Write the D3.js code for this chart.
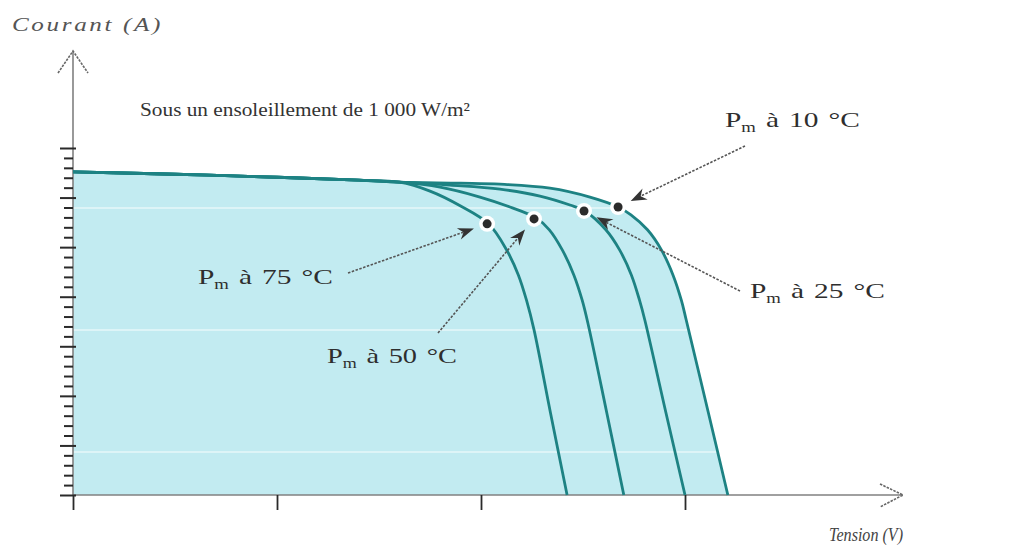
<!DOCTYPE html>
<html>
<head>
<meta charset="utf-8">
<script src="https://cdn.jsdelivr.net/npm/d3@7"></script>
<style>
  html, body { margin: 0; padding: 0; background: #ffffff; }
  svg { display: block; }
</style>
</head>
<body>
<script>
// ---------- data (voltage in V, current in A) ----------
const sharedV = [0, 5, 10, 14, 16];
const sharedI = [6.52, 6.47, 6.41, 6.35, 6.31];

const v75 = [17.5, 19.0, 20.37, 21.26, 21.83, 22.23, 22.60, 23.40, 24.22];
const i75 = [6.13, 5.83, 5.47, 4.94, 4.44, 3.93, 3.33, 1.67, 0];

const v50 = [17.99, 19.95, 21.42, 22.70, 23.35, 23.99, 24.55, 24.96, 25.26, 26.16, 27.0];
const i50 = [6.21, 6.01, 5.81, 5.59, 5.35, 4.94, 4.44, 3.93, 3.43, 1.67, 0];

const v25 = [18.48, 20.93, 22.89, 24.36, 25.09, 26.12, 26.80, 27.37, 27.77, 28.03, 29.06, 30.0];
const i25 = [6.25, 6.17, 6.03, 5.85, 5.73, 5.35, 4.94, 4.44, 3.93, 3.53, 1.67, 0];

const v10 = [19.0, 20.93, 23.38, 25.34, 26.72, 27.35, 28.16, 28.85, 29.41, 29.82, 30.06, 31.14, 32.1];
const i10 = [6.29, 6.27, 6.19, 6.01, 5.81, 5.65, 5.35, 4.94, 4.44, 3.93, 3.53, 1.67, 0];

const temps = ["75", "50", "25", "10"];
const pmV = [20.3, 22.6, 25.05, 26.72];
const pmI = [5.47, 5.57, 5.73, 5.81];

const xTicks = [0, 10, 20, 30];
const yMajorTicks = [0, 1, 2, 3, 4, 5, 6, 7];
const yMinorTicks = [0.2, 0.4, 0.6, 0.8, 1.2, 1.4, 1.6, 1.8, 2.2, 2.4, 2.6, 2.8,
  3.2, 3.4, 3.6, 3.8, 4.2, 4.4, 4.6, 4.8, 5.2, 5.4, 5.6, 5.8, 6.2, 6.4, 6.6, 6.8];

const title = "Sous un ensoleillement de 1 000 W/m²";
const yTitle = "Courant (A)";
const xTitle = "Tension (V)";

// ---------- setup ----------
const W = 1031, H = 547;
const svg = d3.select("body").append("svg").attr("width", W).attr("height", H);

const x = d3.scaleLinear().domain([0, 40]).range([73, 889]);
const y = d3.scaleLinear().domain([0, 7]).range([495, 148]);

const FILL = "#c2ebf1";
const CURVE = "#1d8283";
const SERIF = "'Liberation Serif', 'Times New Roman', serif";

function series(vs, is) {
  const pts = sharedV.map((v, k) => [v, sharedI[k]]);
  vs.forEach((v, k) => pts.push([v, is[k]]));
  return pts;
}
const curves = [series(v75, i75), series(v50, i50), series(v25, i25), series(v10, i10)];
const curveType = d3.curveCatmullRom.alpha(0.5);

// ---------- fill under outermost curve ----------
const area = d3.area().x(d => x(d[0])).y0(y(0)).y1(d => y(d[1])).curve(curveType);
const defs = svg.append("defs");
defs.append("clipPath").attr("id", "fillclip").append("path").datum(curves[3]).attr("d", area);
svg.append("path").datum(curves[3]).attr("d", area).attr("fill", FILL);
// faint scan stripes
svg.append("g").attr("clip-path", "url(#fillclip)")
  .selectAll("line").data([208, 330, 452]).join("line")
  .attr("x1", 60).attr("x2", 760).attr("y1", d => d).attr("y2", d => d)
  .attr("stroke", "#ffffff").attr("stroke-opacity", 0.45).attr("stroke-width", 2);

// ---------- axes ----------
const axisColor = "#808080";
svg.append("line").attr("x1", x(0)).attr("x2", 903).attr("y1", y(0)).attr("y2", y(0))
  .attr("stroke", axisColor).attr("stroke-width", 1.6);
svg.append("line").attr("x1", x(0)).attr("x2", x(0)).attr("y1", y(0)).attr("y2", 51)
  .attr("stroke", axisColor).attr("stroke-width", 1.6);
svg.append("path").attr("d", `M880,484 L903,${y(0)} L880,507`)
  .attr("fill", "none").attr("stroke", "#666").attr("stroke-width", 1.6).attr("stroke-dasharray", "2.5,1.2");
svg.append("path").attr("d", `M${x(0) - 15},73 L${x(0)},51 L${x(0) + 15},73`)
  .attr("fill", "none").attr("stroke", "#666").attr("stroke-width", 1.6).attr("stroke-dasharray", "2.5,1.2");

// y ticks
const yMinorAxis = d3.axisLeft(y).tickValues(yMinorTicks).tickSize(9).tickFormat("");
const gyMinor = svg.append("g").attr("transform", `translate(${x(0)},0)`).call(yMinorAxis);
gyMinor.select(".domain").remove();
gyMinor.selectAll("line").attr("stroke", "#2a2a2a").attr("stroke-width", 2);

const yMajorAxis = d3.axisLeft(y).tickValues(yMajorTicks).tickSize(13).tickFormat("");
const gyMajor = svg.append("g").attr("transform", `translate(${x(0)},0)`).call(yMajorAxis);
gyMajor.select(".domain").remove();
gyMajor.selectAll("line").attr("x1", 3).attr("stroke", "#2a2a2a").attr("stroke-width", 2);

// x ticks
const xAxis = d3.axisBottom(x).tickValues(xTicks).tickSize(15).tickFormat("");
const gx = svg.append("g").attr("transform", `translate(0,${y(0)})`).call(xAxis);
gx.select(".domain").remove();
gx.selectAll("line").attr("stroke", "#2a2a2a").attr("stroke-width", 1.8);

// ---------- curves ----------
const line = d3.line().x(d => x(d[0])).y(d => y(d[1])).curve(curveType);
svg.selectAll("path.iv").data(curves).join("path").attr("class", "iv")
  .attr("d", line).attr("fill", "none").attr("stroke", CURVE).attr("stroke-width", 2.8);

// ---------- annotations ----------
const labelPos = [
  { tx: 198, ty: 284, sx: 348, sy: 273 },   // 75
  { tx: 327, ty: 363, sx: 438, sy: 333 },   // 50
  { tx: 750, ty: 298, sx: 740, sy: 291 },   // 25
  { tx: 725, ty: 127, sx: 745, sy: 146 }    // 10
];

temps.forEach((t, k) => {
  const px = x(pmV[k]), py = y(pmI[k]);
  const L = labelPos[k];
  const dx = L.sx - px, dy = L.sy - py, len = Math.hypot(dx, dy);
  const ux = dx / len, uy = dy / len;
  const tipX = px + ux * 14, tipY = py + uy * 14;
  svg.append("line").attr("x1", L.sx).attr("y1", L.sy).attr("x2", tipX + ux * 8).attr("y2", tipY + uy * 8)
    .attr("stroke", "#555").attr("stroke-width", 1.6).attr("stroke-dasharray", "2.5,1.5");
  const ang = Math.atan2(-uy, -ux) * 180 / Math.PI;
  svg.append("path").attr("d", "M0,0 L-16,-6 L-11,0 L-16,6 Z")
    .attr("transform", `translate(${tipX},${tipY}) rotate(${ang})`)
    .attr("fill", "#333");
});

// Pm dots
temps.forEach((t, k) => {
  svg.append("circle").attr("cx", x(pmV[k])).attr("cy", y(pmI[k])).attr("r", 8).attr("fill", "#ffffff");
  svg.append("circle").attr("cx", x(pmV[k])).attr("cy", y(pmI[k])).attr("r", 4.5).attr("fill", "#2b2b2b");
});

// Pm labels
temps.forEach((t, k) => {
  const L = labelPos[k];
  const g = svg.append("g");
  const txt = g.append("text").attr("x", 0).attr("y", 0)
    .attr("font-family", SERIF).attr("font-size", 22).attr("fill", "#2e2e2e")
    .attr("word-spacing", 2);
  txt.append("tspan").text("P");
  txt.append("tspan").attr("font-size", 14).attr("dy", 5).text("m");
  txt.append("tspan").attr("dy", -5).text(" à " + t + " °C");
  const w = txt.node().getBBox().width;
  const target = k === 1 ? 130 : 135;
  g.attr("transform", `translate(${L.tx},${L.ty}) scale(${target / w},1)`);
});

// title & axis labels
svg.append("text").attr("x", 140).attr("y", 116)
  .attr("font-family", SERIF).attr("font-size", 19).attr("fill", "#333")
  .attr("textLength", 330).attr("lengthAdjust", "spacingAndGlyphs").text(title);

svg.append("text").attr("x", 12).attr("y", 31)
  .attr("font-family", SERIF).attr("font-style", "italic").attr("font-size", 19).attr("fill", "#555")
  .attr("letter-spacing", 2)
  .attr("textLength", 151).attr("lengthAdjust", "spacingAndGlyphs").text(yTitle);

svg.append("text").attr("x", 829).attr("y", 541)
  .attr("font-family", SERIF).attr("font-style", "italic").attr("font-size", 18).attr("fill", "#444")
  .attr("textLength", 74).attr("lengthAdjust", "spacingAndGlyphs").text(xTitle);
</script>
</body>
</html>
